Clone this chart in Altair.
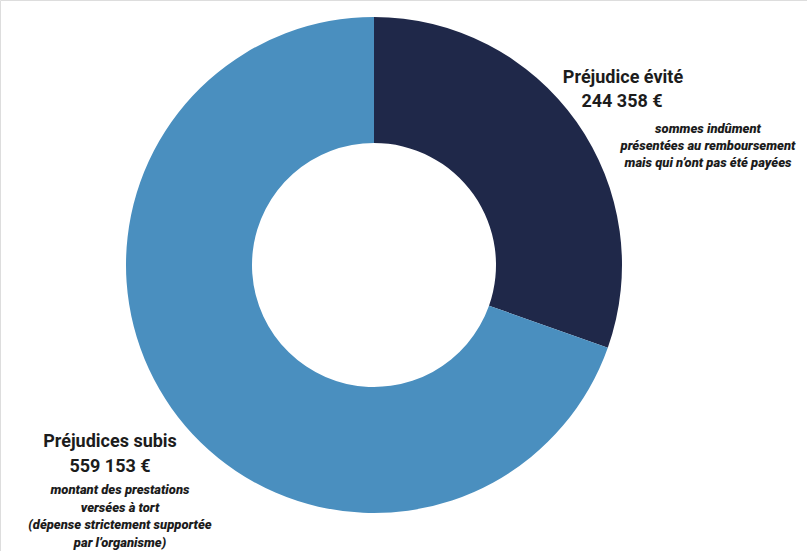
import altair as alt
import pandas as pd

categories = ["Préjudice évité", "Préjudices subis"]
values = [244358, 559153]
amount_labels = ["244 358 €", "559 153 €"]
descriptions = [
    ["sommes indûment", "présentées au remboursement", "mais qui n’ont pas été payées"],
    ["montant des prestations", "versées à tort", "(dépense strictement supportée", "par l’organisme)"],
]
colors = ["#1f2849", "#4a8fbf"]

df = pd.DataFrame({"categorie": categories, "montant": values, "ordre": [0, 1]})

W, H = 807, 551
CX, CY = 374, 265

donut = alt.Chart(df).mark_arc(outerRadius=248, innerRadius=122, stroke=None).encode(
    theta=alt.Theta("montant:Q", stack=True),
    order=alt.Order("ordre:Q"),
    color=alt.Color("categorie:N", scale=alt.Scale(domain=categories, range=colors), legend=None),
    x=alt.value(CX),
    y=alt.value(CY),
)

FONT = "Roboto"
TXT = "#1c1c1c"

def line(text, x, y, size, italic=False, weight="bold"):
    props = dict(font=FONT, fontSize=size, fontWeight=weight, color=TXT,
                 align="center", baseline="middle")
    if italic:
        props["fontStyle"] = "italic"
    return alt.Chart(df).transform_filter("datum.ordre == 0").mark_text(**props).encode(
        text=alt.value(text), x=alt.value(x), y=alt.value(y)
    )

layers = [donut]
# right label (préjudice évité)
layers.append(line(categories[0], 623, 78, 18))
layers.append(line(amount_labels[0], 622, 102, 18))
for i, t in enumerate(descriptions[0]):
    layers.append(line(t, 708, 129 + i * 16.8, 13, italic=True, weight=900))
# left label (préjudices subis)
layers.append(line(categories[1], 110, 442, 18))
layers.append(line(amount_labels[1], 110, 467, 18))
for i, t in enumerate(descriptions[1]):
    layers.append(line(t, 120, 490 + i * 17.5, 13, italic=True, weight=900))

chart = alt.layer(*layers).properties(
    width=W, height=H, padding=0, autosize=alt.AutoSizeParams(type="none")
).configure_view(stroke=None).configure(background="white")

chart.save("out.html", embed_options={"renderer": "svg", "actions": False})
